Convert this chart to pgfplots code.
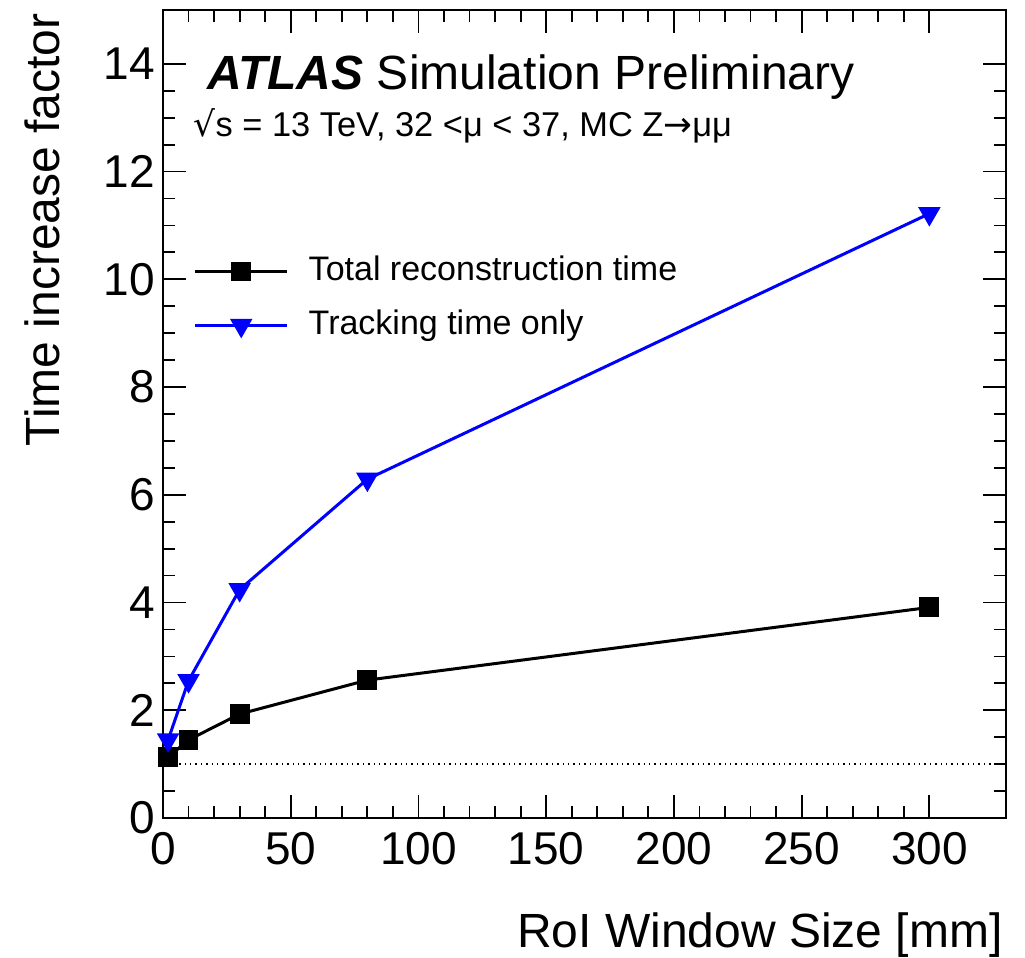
\documentclass[border=0pt]{standalone}
\usepackage{pgfplots}
\pgfplotsset{compat=1.18}
\usepackage{fontspec}
\setmainfont{Liberation Sans}
\newfontfamily\dejavu{DejaVu Sans}
\usetikzlibrary{calc}
\definecolor{rootblue}{RGB}{0,0,255}
\begin{document}
\begin{tikzpicture}
\begin{axis}[
  scale only axis,
  width=421.5pt, height=404pt,
  xmin=0, xmax=330, ymin=0, ymax=15,
  xtick={0,50,...,300}, minor x tick num=4,
  ytick={0,2,...,14}, minor y tick num=3,
  tick pos=both, xticklabel pos=lower, yticklabel pos=left,
  tick align=inside,
  major tick length=11.5pt, minor tick length=6pt,
  axis line style={line width=1pt},
  every tick/.style={line width=0.9pt, black},
  /pgf/number format/assume math mode=true,
  ticklabel style={font=\fontsize{23}{23}\selectfont},
  xticklabel style={inner sep=0pt, yshift=-7pt},
  yticklabel style={inner sep=0pt, xshift=-4pt},
  xlabel={RoI Window Size [mm]},
  ylabel={Time increase factor},
  label style={font=\fontsize{24}{24}\selectfont, inner sep=0pt},
  xlabel style={at={($(axis description cs:1,0)+(-1.5pt,-64.5pt)$)}, anchor=base east},
  ylabel style={at={($(axis description cs:0,1)+(-51.5pt,-1.5pt)$)}, anchor=base east, rotate=0},
  clip=false,
  legend image code/.code={\draw[mark repeat=2,mark phase=2] plot coordinates {(0pt,0pt)(23pt,0pt)(46pt,0pt)};},
  legend style={at={(axis description cs:0.036,0.643)}, anchor=west, draw=none, fill=none,
    font=\fontsize{17}{17}\selectfont, inner sep=0pt, row sep=11pt, column sep=10pt,
    nodes={inner sep=0pt, text height=12.3pt, text depth=3.6pt}},
  legend cell align=left,
]
\addplot[forget plot, dotted, line width=0.7pt] coordinates {(0,1) (330,1)};
\addplot[black, line width=1.5pt, mark=square*, mark size=4.2pt, mark options={solid}]
  coordinates {(2,1.13) (10,1.45) (30,1.93) (80,2.56) (300,3.91)};
\addlegendentry{Total reconstruction time}
\addplot[rootblue, line width=1.5pt, mark=triangle*, mark size=5pt, mark options={solid, rotate=180}]
  coordinates {(2,1.45) (10,2.55) (30,4.24) (80,6.29) (300,11.22)};
\addlegendentry{Tracking time only}
\node[anchor=base west, inner sep=0pt, font=\fontsize{24}{24}\selectfont] at (axis description cs:0.052,0.901)
  {\textbf{\textit{ATLAS}} Simulation Preliminary};
\node[anchor=base west, inner sep=0pt, font=\fontsize{17.2}{17.2}\selectfont] at (axis description cs:0.036,0.843)
  {{\dejavu √}s = 13 TeV, 32 <μ < 37, MC Z{\dejavu →}μμ};
\end{axis}
\path ($(current axis.south west)+(-81.5pt,-69.5pt)$);
\path ($(current axis.north east)+(9.5pt,5pt)$);
\end{tikzpicture}
\end{document}
